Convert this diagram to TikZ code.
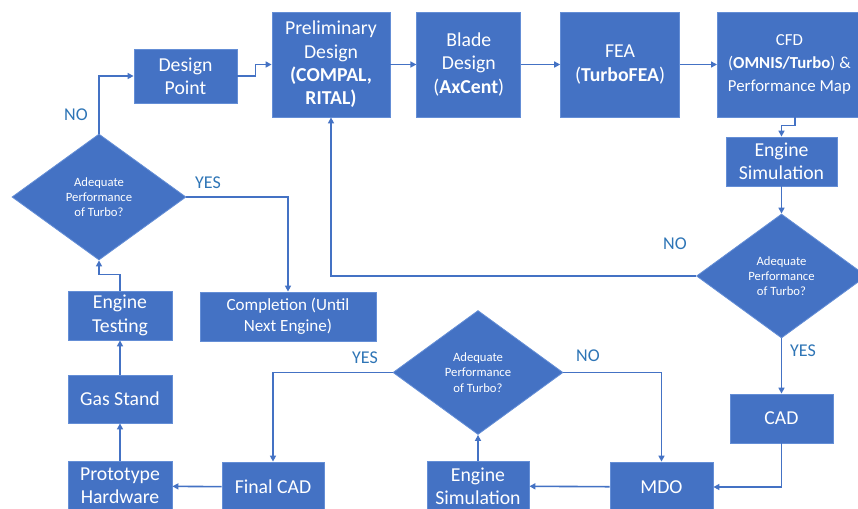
\documentclass[tikz,border=0pt]{standalone}
\usepackage{fontspec}
\setmainfont{Carlito}
\usetikzlibrary{arrows.meta, positioning, shapes.geometric}
\definecolor{boxblue}{RGB}{68,114,196}
\definecolor{edgeblue}{RGB}{100,142,214}
\definecolor{labelblue}{RGB}{46,117,182}

\begin{document}
\begin{tikzpicture}[
    x=0.75pt, y=-0.75pt,
    box/.style={rectangle, draw=edgeblue, line width=0.6pt, fill=boxblue, text=white,
                align=center, inner sep=1pt, font=\fontsize{14.8}{17.5}\selectfont},
    dec/.style={diamond, draw=edgeblue, line width=0.6pt, fill=boxblue, text=white,
                align=center, inner sep=0pt, minimum width=127.5pt, minimum height=93pt,
                font=\fontsize{9.5}{11.5}\selectfont},
    arr/.style={-{Triangle[length=4.5pt,width=4.5pt]}, line width=1.2pt, boxblue},
    lbl/.style={text=labelblue, font=\fontsize{13.5}{15}\selectfont}
  ]
    \path[use as bounding box, fill=white] (0,0) rectangle (858,508);

    % top row
    \node[box, minimum width=77.25pt, minimum height=40.5pt] (dpoint) at (185.5,76) {Design\\Point};
    \node[box, minimum width=88.5pt, minimum height=78.75pt] (prelim) at (331,64.5)
        {Preliminary\\Design\\\textbf{(COMPAL,}\\\textbf{RITAL)}};
    \node[box, minimum width=78pt, minimum height=78.75pt, right=19.5pt of prelim] (blade)
        {Blade\\Design\\(\textbf{AxCent})};
    \node[box, minimum width=89.25pt, minimum height=78.75pt, right=29.25pt of blade] (fea)
        {FEA\\(\textbf{TurboFEA})};
    \node[box, minimum width=108pt, minimum height=78.75pt, right=27.75pt of fea,
          font=\fontsize{12.6}{17.5}\selectfont] (cfd)
        {CFD\\(\textbf{OMNIS/Turbo}) \&\\Performance Map};

    % right column
    \node[box, minimum width=83.25pt, minimum height=36.75pt] (esimtop) at (781.5,161.5) {Engine\\Simulation};
    \node[dec] (dright) at (781.5,276) {Adequate\\Performance\\of Turbo?};
    \node[box, minimum width=77.25pt, minimum height=36.75pt] (cad) at (781.5,418.5) {CAD};

    % bottom row
    \node[box, minimum width=77.25pt, minimum height=37.5pt] (mdo) at (661.5,487) {MDO};
    \node[box, minimum width=76.5pt, minimum height=37.5pt] (esimbot) at (478,486) {Engine\\Simulation};
    \node[dec] (dmid) at (478,372.5) {Adequate\\Performance\\of Turbo?};
    \node[box, minimum width=76.5pt, minimum height=37.5pt] (fcad) at (273,487) {Final CAD};
    \node[box, minimum width=78pt, minimum height=37.5pt] (proto) at (120,486) {Prototype\\Hardware};

    % left column
    \node[box, minimum width=78pt, minimum height=36pt] (gas) at (120,399) {Gas Stand};
    \node[box, minimum width=78pt, minimum height=36.75pt] (etest) at (120,315.5) {Engine\\Testing};
    \node[dec, minimum width=130.5pt, minimum height=94.5pt] (dleft) at (99,197) {Adequate\\Performance\\of Turbo?};
    \node[box, minimum width=132pt, minimum height=36.75pt,
          font=\fontsize{12.8}{15.5}\selectfont] (compl) at (288,316.5) {Completion (Until\\Next Engine)};

    % branch labels
    \node[lbl] (noleft)   at (76,115)  {NO};
    \node[lbl] (yesleft)  at (208,183) {YES};
    \node[lbl] (noright)  at (675,244) {NO};
    \node[lbl] (yesright) at (803,351) {YES};
    \node[lbl] (yesmid)   at (365,358) {YES};
    \node[lbl] (nomid)    at (588,356) {NO};

    \draw[arr] (dpoint.east) -- ++(18,0) |- (prelim.west);
    \draw[arr] (prelim) -- (blade);
    \draw[arr] (blade)  -- (fea);
    \draw[arr] (fea)    -- (cfd);
    \draw[arr] ([xshift=4pt]cfd.south) -- ++(0,8) -| (esimtop.north);
    \draw[arr] (esimtop) -- (dright);
    \draw[arr] (dright.west) -| (prelim.south);
    \draw[arr] (dright) -- (cad);
    \draw[arr] (cad.south) |- (mdo.east);
    \draw[arr] (mdo)     -- (esimbot);
    \draw[arr] (esimbot) -- (dmid);
    \draw[arr] (dmid.east) -| (mdo.north);
    \draw[arr] (dmid.west) -| (fcad.north);
    \draw[arr] (fcad)  -- (proto);
    \draw[arr] (proto) -- (gas);
    \draw[arr] (gas)   -- (etest);
    \draw[arr] (etest.north) -- ++(0,-16) -| (dleft.south);
    \draw[arr] (dleft.north) |- (dpoint.west);
    \draw[arr] (dleft.east) -| (compl.north);
  \end{tikzpicture}
\end{document}
